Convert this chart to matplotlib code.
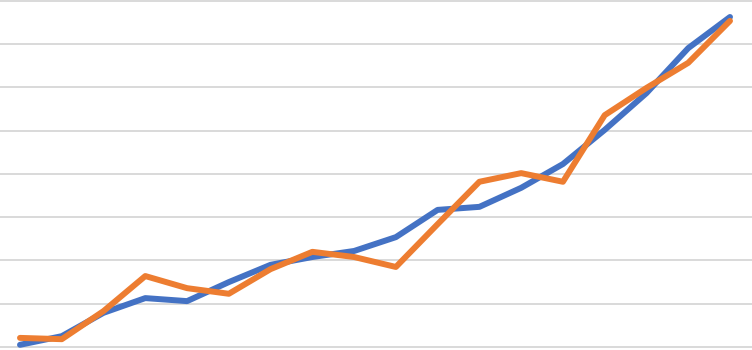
import matplotlib
matplotlib.use("Agg")
import matplotlib.pyplot as plt
import numpy as np

# values (one point per category, 18 categories)
categories = list(range(18))
series_a = [0.05, 0.25, 0.79, 1.13, 1.06, 1.50, 1.90, 2.08, 2.22,
            2.54, 3.17, 3.24, 3.68, 4.23, 5.02, 5.87, 6.91, 7.63]
series_b = [0.21, 0.18, 0.83, 1.64, 1.36, 1.23, 1.80, 2.20, 2.08,
            1.85, 2.84, 3.82, 4.02, 3.82, 5.36, 5.99, 6.57, 7.54]
grid_levels = list(range(0, 9))

fig = plt.figure(figsize=(7.52, 3.50), dpi=100)
ax = fig.add_axes([0, 0, 1, 1])

ax.plot(categories, series_a, color="#4472C4", lw=4.3,
        solid_joinstyle="round", solid_capstyle="round", zorder=3)
ax.plot(categories, series_b, color="#ED7D31", lw=4.3,
        solid_joinstyle="round", solid_capstyle="round", zorder=4)

ax.set_xlim(-0.479, 17.527)
ax.set_ylim(-0.07, 8.023)
ax.set_yticks(grid_levels)
ax.yaxis.grid(True, color="#D9D9D9", lw=1.4, zorder=0)
ax.set_axisbelow(True)
ax.tick_params(left=False, bottom=False, labelleft=False, labelbottom=False)
for s in ax.spines.values():
    s.set_visible(False)

fig.savefig("out.png", dpi=100, facecolor="white")
